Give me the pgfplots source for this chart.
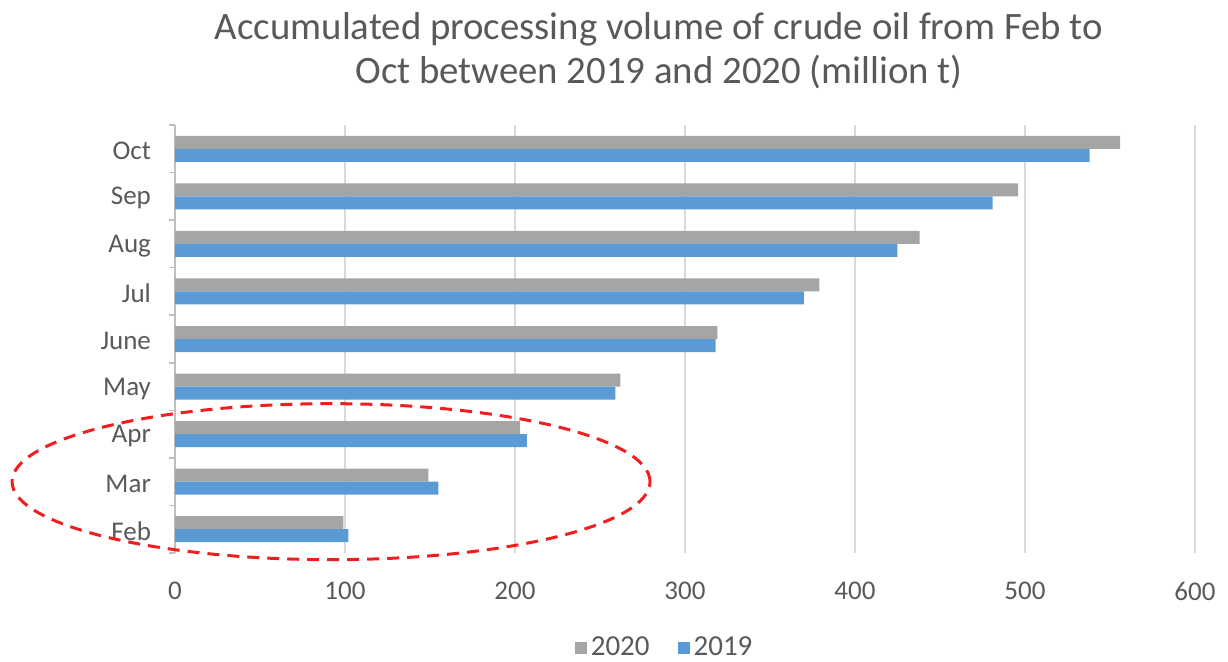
\documentclass[border=0pt]{standalone}
\usepackage{fontspec}
\setmainfont{Carlito}
\usepackage{pgfplots}
\pgfplotsset{compat=1.18}
\definecolor{c2020}{HTML}{A5A5A5}
\definecolor{c2019}{HTML}{5B9BD5}
\definecolor{txt}{HTML}{595959}
\definecolor{gridc}{HTML}{D9D9D9}
\definecolor{axc}{HTML}{BFBFBF}
\definecolor{ellc}{HTML}{F01E1E}
\begin{document}
\begin{tikzpicture}
\begin{axis}[
  at={(0,0)}, anchor=south west,
  scale only axis, width=510pt, height=214pt,
  xbar, bar width=6.5pt,
  xmin=0, xmax=600, ymin=-0.5, ymax=8.5,
  xtick={0,100,...,600},
  ytick={0,...,8},
  yticklabels={Feb,Mar,Apr,May,June,Jul,Aug,Sep,Oct},
  minor ytick={-0.5,0.5,...,8.5},
  axis lines*=left,
  x axis line style={draw=none},
  y axis line style={draw=axc, line width=0.75pt},
  major tick length=0pt, minor tick length=3pt, tick align=outside,
  minor tick style={draw=axc, line width=0.75pt},
  xmajorgrids, major x grid style={draw=gridc, line width=0.9pt},
  /pgf/number format/assume math mode=true,
  ticklabel style={font=\fontsize{13.5}{15}\selectfont, text=txt},
  yticklabel style={xshift=-8.5pt, yshift=-1pt},
  xticklabel style={yshift=-11pt},
  title={Accumulated processing volume of crude oil from Feb to\\Oct between 2019 and 2020 (million t)},
  title style={at={(0.4745,1)}, anchor=center, yshift=31pt, align=center, font=\fontsize{19.4}{22}\selectfont, text=txt},
  legend style={at={(0.481,0)}, anchor=center, yshift=-47.5pt, draw=none, fill=none, font=\fontsize{14.5}{16}\selectfont, text=txt, legend columns=2, /tikz/every even column/.append style={column sep=12pt}},
  legend image code/.code={\fill[#1] (0pt,-3pt) rectangle (6pt,3pt);},
  clip=false,
]
\addplot[draw=none, fill=c2020, bar shift=3.25pt] coordinates {
 (99,0) (149,1) (203,2) (262,3) (319,4) (379,5) (438,6) (496,7) (556,8)};
\addlegendentry{2020}
\addplot[draw=none, fill=c2019, bar shift=-3.25pt] coordinates {
 (102,0) (155,1) (207,2) (259,3) (318,4) (370,5) (425,6) (481,7) (538,8)};
\addlegendentry{2019}
\draw[ellc, line width=1.5pt, dash pattern=on 6pt off 4pt] (axis cs:91.8,1) ellipse [x radius=159.5pt, y radius=39pt];
\end{axis}
\pgfresetboundingbox
\path[use as bounding box] (-87.5pt,-54pt) rectangle (526.5pt,276.5pt);
\end{tikzpicture}
\end{document}
